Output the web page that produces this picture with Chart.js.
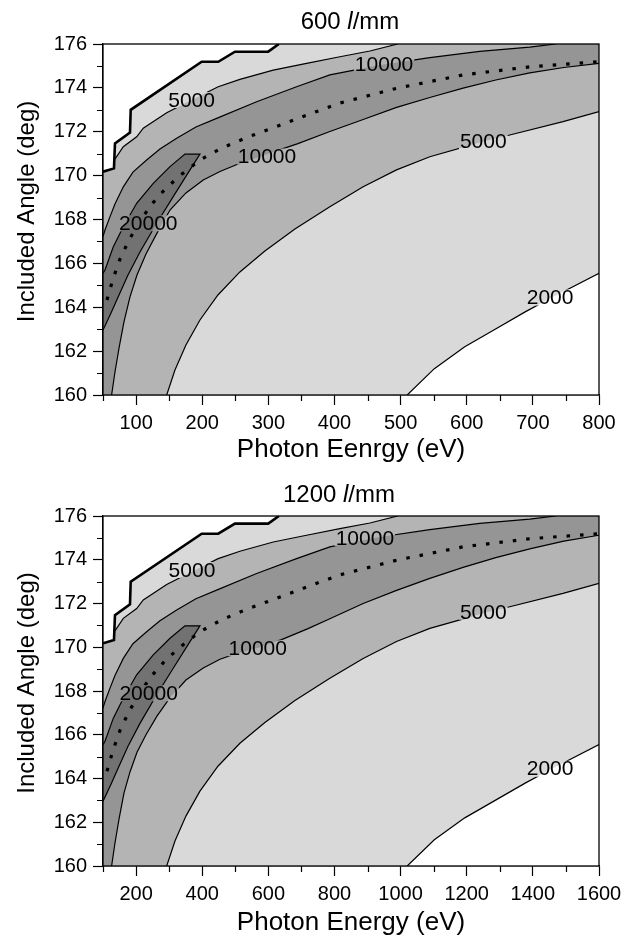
<!DOCTYPE html>
<html>
<head>
<meta charset="utf-8">
<script src="https://cdn.jsdelivr.net/npm/chart.js@4.4.1/dist/chart.umd.min.js"></script>
<style>
  body { margin: 0; background: #fff; }
  canvas { display: block; }
</style>
</head>
<body>
<canvas id="top" width="634" height="470"></canvas>
<canvas id="bottom" width="634" height="469"></canvas>
<script>
// ---- axis ticks ----
const yTicks = [160, 162, 164, 166, 168, 170, 172, 174, 176];
const yMinor = [161, 163, 165, 167, 169, 171, 173, 175];
const xTicks600 = [100, 200, 300, 400, 500, 600, 700, 800];
const xMinor600 = [50, 150, 250, 350, 450, 550, 650, 750];
const xTicks1200 = [200, 400, 600, 800, 1000, 1200, 1400, 1600];
const xMinor1200 = [100, 300, 500, 700, 900, 1100, 1300, 1500];

// ---- 600 l/mm : [photon energy (eV), included angle (deg)] ----
const edge600 = [[50, 170.18], [66.6, 170.33], [68.1, 171.47], [90.8, 171.96], [91.9, 173.0], [199.2, 175.19], [224.3, 175.19], [249.5, 175.65], [299.8, 175.65], [316, 176]];
const up5k600 = [[68.1, 170.75], [80.7, 171.32], [100.9, 171.77], [110.9, 172.16], [146.3, 172.87], [184, 173.45], [224.2, 174.05], [257, 174.39], [307.4, 174.81], [357.8, 175.12], [408.2, 175.42], [453.6, 175.68], [495.8, 176]];
const up10k600 = [[50, 167.22], [53, 167.52], [60.6, 168.13], [68.1, 168.71], [80.7, 169.49], [95.3, 170.16], [116, 170.71], [136.1, 171.21], [161.4, 171.7], [190.5, 172.22], [221.8, 172.61], [282.3, 173.37], [342.7, 174.05], [393, 174.59], [468.6, 175.04], [544.2, 175.38], [619.7, 175.66], [695.3, 175.86], [734.6, 176]];
const island600 = [[50, 165.55], [53, 165.7], [65.6, 166.76], [80.7, 167.67], [100.9, 168.74], [126, 169.65], [151.3, 170.41], [173.9, 170.98], [196.6, 170.98], [181.5, 170.26], [156.2, 169.04], [131.2, 167.83], [105.9, 166.52], [87.8, 165.47], [74.2, 164.56], [62.1, 163.74], [50, 162.96]];
const dots600 = [[56, 164.33], [65.1, 165.29], [75.7, 166.2], [89.3, 167.06], [105.9, 167.93], [124, 168.71], [145.2, 169.43], [169.4, 170.07], [196.6, 170.71], [229.8, 171.26], [269.1, 171.76], [314.5, 172.26], [362.8, 172.81], [408.2, 173.31], [493.9, 173.98], [594.5, 174.59], [695.3, 174.96], [798.5, 175.19]];
const low10k600 = [[63, 160], [68.1, 161.05], [74.2, 162.14], [81.7, 163.33], [90.8, 164.47], [101.4, 165.47], [115, 166.43], [131.6, 167.38], [151.3, 168.43], [175.4, 169.21], [201.6, 169.8], [226.8, 170.19], [252.5, 170.51], [297.8, 170.98], [344.7, 171.46], [393, 172.01], [443.4, 172.56], [493.9, 173.11], [544.2, 173.56], [594.5, 173.99], [643.9, 174.36], [695.3, 174.68], [746.7, 174.93], [800, 175.12]];
const low5k600 = [[146.3, 160], [158.8, 161.14], [175.4, 162.28], [196.6, 163.42], [223.8, 164.56], [257, 165.61], [294.8, 166.56], [340.2, 167.57], [393, 168.58], [443.4, 169.49], [493.8, 170.26], [544.2, 170.86], [624.7, 171.55], [665.1, 171.85], [745.6, 172.46], [800, 172.92]];
const low2k600 = [[510, 160], [551, 161.2], [597, 162.2], [643, 163.0], [689, 163.8], [726, 164.4], [800, 165.55]];
const labels600 = [['5000', 184, 173.45], ['10000', 475, 175.1], ['10000', 298, 170.87], ['20000', 118.5, 167.83], ['5000', 625, 171.55], ['2000', 726, 164.45]];

// ---- 1200 l/mm ----
const edge1200 = [[100, 170.18], [133.2, 170.33], [136.2, 171.47], [181.6, 171.96], [183.8, 173.0], [398.4, 175.19], [448.6, 175.19], [499, 175.65], [599.6, 175.65], [632, 176]];
const up5k1200 = [[136.2, 170.75], [161.4, 171.32], [201.8, 171.77], [221.8, 172.16], [292.6, 172.87], [368, 173.45], [448.4, 174.05], [514, 174.39], [614.8, 174.81], [715.6, 175.12], [816.4, 175.42], [907.2, 175.68], [991.6, 176]];
const up10k1200 = [[100, 167.22], [106, 167.52], [121.2, 168.13], [136.2, 168.71], [161.4, 169.49], [190.6, 170.16], [232, 170.71], [272.2, 171.21], [322.8, 171.7], [381, 172.22], [443.6, 172.61], [564.6, 173.37], [685.4, 174.05], [786, 174.59], [937.2, 175.04], [1088.4, 175.38], [1239.4, 175.66], [1390.6, 175.86], [1469.2, 176]];
const island1200 = [[100, 165.55], [106, 165.7], [131.2, 166.76], [161.4, 167.67], [201.8, 168.74], [252, 169.65], [302.6, 170.41], [347.8, 170.98], [393.2, 170.98], [363, 170.26], [312.4, 169.04], [262.4, 167.83], [211.8, 166.52], [175.6, 165.47], [148.4, 164.56], [124.2, 163.74], [100, 162.96]];
const dots1200 = [[112, 164.33], [130.2, 165.29], [151.4, 166.2], [178.6, 167.06], [211.8, 167.93], [248, 168.71], [290.4, 169.43], [338.8, 170.07], [393.2, 170.71], [459.6, 171.26], [538.2, 171.76], [629, 172.26], [725.6, 172.81], [816.4, 173.31], [987.8, 173.98], [1189, 174.59], [1390.6, 174.96], [1597, 175.19]];
const low10k1200 = [[126, 160], [136.2, 161.05], [148.4, 162.14], [163.4, 163.33], [181.6, 164.3], [202.8, 165.2], [230, 166.0], [263.2, 166.85], [302.6, 167.7], [350.8, 168.5], [403.2, 169.05], [453.6, 169.45], [505, 169.72], [568, 169.97], [640, 170.35], [720, 170.85], [786, 171.3], [886.8, 172.0], [987.8, 172.6], [1088.4, 173.15], [1189, 173.65], [1287.8, 174.1], [1390.6, 174.5], [1493.4, 174.85], [1600, 175.12]];
const low5k1200 = [[292.6, 160], [317.6, 161.14], [350.8, 162.28], [393.2, 163.42], [447.6, 164.56], [514, 165.61], [589.6, 166.56], [680.4, 167.57], [786, 168.58], [886.8, 169.49], [987.6, 170.26], [1088.4, 170.86], [1249.4, 171.55], [1330.2, 171.85], [1491.2, 172.46], [1600, 172.92]];
const low2k1200 = [[1020, 160], [1102, 161.2], [1194, 162.2], [1286, 163.0], [1378, 163.8], [1452, 164.4], [1600, 165.55]];
const labels1200 = [['5000', 369, 173.53], ['10000', 892, 174.98], ['10000', 568, 169.95], ['20000', 238, 167.9], ['5000', 1250, 171.62], ['2000', 1452, 164.45]];

const FONT = '"Liberation Sans", Arial, Helvetica, sans-serif';
Chart.defaults.font.family = FONT;
Chart.defaults.color = '#000';

function pts(arr) {
    return arr.map(p => ({ x: p[0], y: p[1] }));
}

function labelBoxes(chart, labels) {
    const ctx = chart.ctx;
    ctx.save();
    ctx.font = '21px ' + FONT;
    const boxes = labels.map(l => {
        const w = ctx.measureText(l[0]).width + 2;
        const px = chart.scales.x.getPixelForValue(l[1]);
        const py = chart.scales.y.getPixelForValue(l[2]);
        return { text: l[0], px, py, x: px - w / 2, y: py - 8, w, h: 16 };
    });
    ctx.restore();
    return boxes;
}

// contour labels, with the contour lines broken underneath them
const contourLabels = {
    id: 'contourLabels',
    beforeDatasetDraw(chart, args, opts) {
        if (!chart.data.datasets[args.index].gap) return;
        const ctx = chart.ctx;
        ctx.save();
        ctx.beginPath();
        ctx.rect(0, 0, chart.width, chart.height);
        labelBoxes(chart, opts.labels).forEach(b => ctx.rect(b.x, b.y, b.w, b.h));
        ctx.clip('evenodd');
    },
    afterDatasetDraw(chart, args) {
        if (chart.data.datasets[args.index].gap) chart.ctx.restore();
    },
    afterDatasetsDraw(chart, args, opts) {
        const ctx = chart.ctx;
        ctx.save();
        ctx.font = '21px ' + FONT;
        ctx.fillStyle = '#000';
        ctx.textAlign = 'center';
        ctx.textBaseline = 'middle';
        labelBoxes(chart, opts.labels).forEach(b => ctx.fillText(b.text, b.px, b.py + 1));
        ctx.restore();
    }
};

// light grey plot background, box frame, minor ticks, titles
const frame = {
    id: 'frame',
    beforeDatasetsDraw(chart) {
        const { ctx, chartArea: a } = chart;
        ctx.save();
        ctx.fillStyle = '#d9d9d9';
        ctx.fillRect(a.left, a.top, a.right - a.left, a.bottom - a.top);
        ctx.restore();
    },
    afterDraw(chart, args, opts) {
        const { ctx, chartArea: a, scales: { x, y } } = chart;
        ctx.save();
        ctx.strokeStyle = '#000';
        ctx.lineWidth = 1.3;
        ctx.strokeRect(a.left, a.top, a.right - a.left, a.bottom - a.top);
        ctx.lineWidth = 1.2;
        ctx.beginPath();
        opts.minorX.forEach(v => {
            const px = Math.round(x.getPixelForValue(v)) + 0.5;
            ctx.moveTo(px, a.bottom);
            ctx.lineTo(px, a.bottom + 6);
        });
        opts.minorY.forEach(v => {
            const py = Math.round(y.getPixelForValue(v)) + 0.5;
            ctx.moveTo(a.left - 6, py);
            ctx.lineTo(a.left, py);
        });
        ctx.stroke();

        ctx.fillStyle = '#000';
        ctx.textBaseline = 'middle';

        // y axis title, sitting a little above the plot centre as in the original
        ctx.save();
        ctx.translate(opts.yTitleX, (a.top + a.bottom) / 2 - 8);
        ctx.rotate(-Math.PI / 2);
        ctx.textAlign = 'center';
        ctx.font = '24px ' + FONT;
        ctx.fillText('Included Angle (deg)', 0, 0);
        ctx.restore();

        // title: "<n> l/mm" with italic l
        const parts = [[opts.title + ' ', 'normal'], ['l', 'italic'], ['/mm', 'normal']];
        ctx.textAlign = 'left';
        let total = 0;
        parts.forEach(p => { ctx.font = p[1] + ' 24px ' + FONT; total += ctx.measureText(p[0]).width; });
        let tx = opts.titleX - total / 2;
        parts.forEach(p => {
            ctx.font = p[1] + ' 24px ' + FONT;
            ctx.fillText(p[0], tx, a.top - opts.titleGap);
            tx += ctx.measureText(p[0]).width;
        });
        ctx.restore();
    }
};

function buildChart(id, p) {
    const edgeBelow = p.edge.filter(q => q[1] < p.up5k[0][1]).reverse();
    const whiteLow = p.low2k.concat([[p.xMax, 160]]);
    const medium = p.low5k.concat([[p.xMax, 176]], p.up5k.slice().reverse(), edgeBelow, [[p.xMin, 160]]);
    const dark = p.low10k.concat([[p.xMax, 176]], p.up10k.slice().reverse(), [[p.xMin, 160]]);
    const whiteTop = p.edge.concat([[p.xMin, 176]]);

    const area = (data, color) => ({
        data: pts(data), backgroundColor: color, borderColor: 'transparent',
        borderWidth: 0, fill: 'shape', pointRadius: 0, tension: 0
    });
    const line = (data, width, dash) => ({
        data: pts(data), borderColor: '#000', borderWidth: width, borderDash: dash || [],
        fill: false, pointRadius: 0, tension: 0, gap: true
    });

    // listed bottom layer first, reversed because Chart.js paints the first dataset last
    const datasets = [
        area(whiteLow, '#ffffff'),
        area(medium, '#b4b4b4'),
        area(dark, '#959595'),
        area(p.island, '#727272'),
        area(whiteTop, '#ffffff'),
        line(p.low2k, 1.2),
        line(p.low5k, 1.2),
        line(p.low10k, 1.2),
        line(p.up10k, 1.2),
        line(p.up5k, 1.2),
        line(p.island, 1.2),
        line(p.dots, 3.2, [3.5, 10]),
        line(p.edge, 2.6)
    ].reverse();

    return new Chart(document.getElementById(id), {
        type: 'line',
        data: { datasets },
        plugins: [frame, contourLabels],
        options: {
            responsive: false,
            animation: false,
            layout: { padding: { top: p.padTop, right: 35, left: 0, bottom: 0 } },
            plugins: {
                legend: { display: false },
                tooltip: { enabled: false },
                frame: { minorX: p.minorX, minorY: yMinor, title: p.title, titleX: p.titleX, titleGap: p.titleGap, yTitleX: 27 },
                contourLabels: { labels: p.labels }
            },
            scales: {
                x: {
                    type: 'linear', min: p.xMin, max: p.xMax,
                    afterBuildTicks: s => { s.ticks = p.ticksX.map(v => ({ value: v })); },
                    afterFit: s => { s.height = p.axisH; },
                    ticks: { font: { size: 20 }, color: '#000', padding: 6, maxRotation: 0, callback: v => String(v) },
                    grid: { drawOnChartArea: false, tickLength: 10, tickColor: '#000', tickWidth: 1.2 },
                    border: { color: '#000', width: 1.3 },
                    title: { display: true, text: p.xTitle, font: { size: 26 }, color: '#000', padding: { top: 0, bottom: p.xTitlePad } }
                },
                y: {
                    type: 'linear', min: 160, max: 176,
                    afterBuildTicks: s => { s.ticks = yTicks.map(v => ({ value: v })); },
                    afterFit: s => { s.width = 103; },
                    ticks: { font: { size: 20 }, color: '#000', padding: 6, callback: v => String(v) },
                    grid: { drawOnChartArea: false, tickLength: 10, tickColor: '#000', tickWidth: 1.2 },
                    border: { color: '#000', width: 1.3 }
                }
            }
        }
    });
}

buildChart('top', {
    title: '600', xTitle: 'Photon Eenrgy (eV)', xMin: 50, xMax: 800,
    ticksX: xTicks600, minorX: xMinor600, padTop: 44, axisH: 75, titleX: 350, titleGap: 22, xTitlePad: 5,
    edge: edge600, up5k: up5k600, up10k: up10k600, island: island600, dots: dots600,
    low10k: low10k600, low5k: low5k600, low2k: low2k600, labels: labels600
});

buildChart('bottom', {
    title: '1200', xTitle: 'Photon Energy (eV)', xMin: 100, xMax: 1600,
    ticksX: xTicks1200, minorX: xMinor1200, padTop: 46, axisH: 73, titleX: 339, titleGap: 21, xTitlePad: 1,
    edge: edge1200, up5k: up5k1200, up10k: up10k1200, island: island1200, dots: dots1200,
    low10k: low10k1200, low5k: low5k1200, low2k: low2k1200, labels: labels1200
});
</script>
</body>
</html>
